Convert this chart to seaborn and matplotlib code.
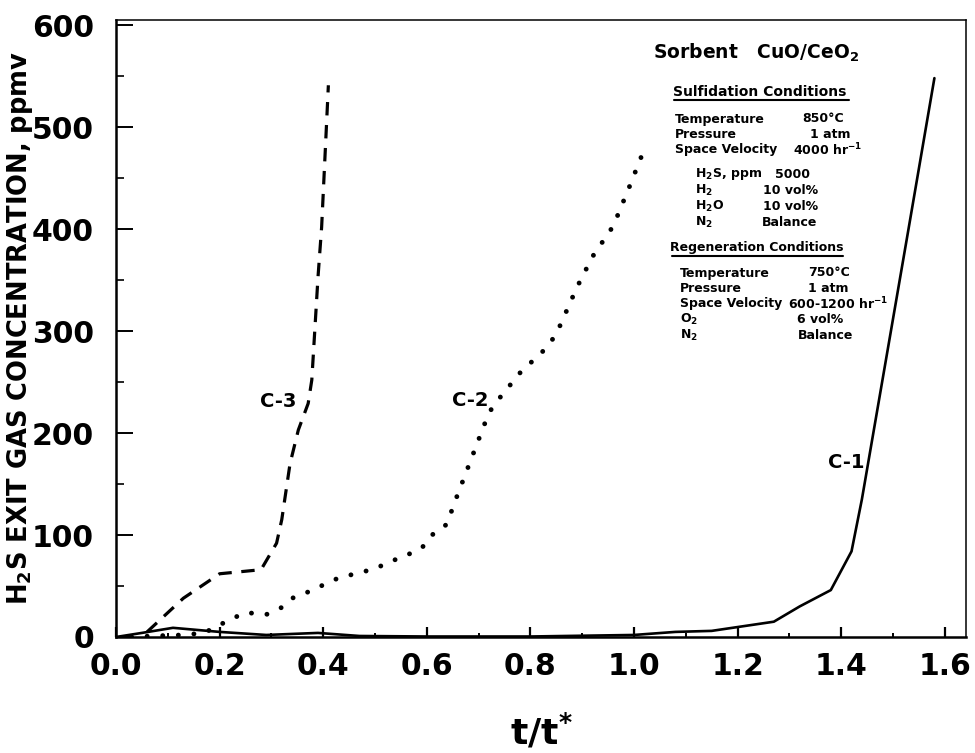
import matplotlib
matplotlib.use("Agg")
import matplotlib.pyplot as plt
import pandas as pd
import seaborn as sns
from matplotlib.lines import Line2D
from matplotlib.ticker import MultipleLocator, FormatStrFormatter

# Breakthrough curves: normalised time t/t* versus H2S exit concentration (ppmv)
t_c1 = [0.00, 0.05, 0.11, 0.20, 0.29, 0.39, 0.47, 0.60, 0.80, 1.00, 1.08,
        1.15, 1.27, 1.32, 1.38, 1.42, 1.44, 1.53, 1.58]
h2s_c1 = [0, 4, 9, 5, 2, 4, 1, 0.5, 0.5, 2, 5,
          6, 15, 30, 46, 84, 135, 400, 548]

t_c2 = [0.03, 0.07, 0.13, 0.17, 0.22, 0.25, 0.29, 0.32, 0.34, 0.37, 0.40,
        0.43, 0.47, 0.50, 0.53, 0.56, 0.59, 0.61, 0.64, 0.65, 0.72, 0.74,
        0.78, 0.83, 0.85, 0.89, 0.92, 0.96, 0.99, 1.015]
h2s_c2 = [0, 1, 2, 4, 17, 24, 22, 29, 38, 44, 51,
          58, 63, 67, 74, 80, 87, 100, 111, 127, 220, 234,
          259, 283, 297, 343, 373, 403, 440, 472]

t_c3 = [0.06, 0.13, 0.20, 0.26, 0.28, 0.31, 0.32, 0.336, 0.352, 0.371,
        0.378, 0.39, 0.397, 0.41]
h2s_c3 = [5, 38, 62, 65, 66, 92, 115, 170, 203, 229,
          252, 353, 402, 541]

curve_names = ["C-1", "C-2", "C-3"]

x_ticks = [0.0, 0.2, 0.4, 0.6, 0.8, 1.0, 1.2, 1.4, 1.6]
y_ticks = [0, 100, 200, 300, 400, 500, 600]

sorbent = "Sorbent   CuO/CeO$_2$"
sulf_title = "Sulfidation Conditions"
sulf_rows = [("Temperature", "850\u00b0C"), ("Pressure", "1 atm"),
             ("Space Velocity", "4000 hr$^{-1}$")]
feed_rows = [("H$_2$S, ppm", "5000"), ("H$_2$", "10 vol%"),
             ("H$_2$O", "10 vol%"), ("N$_2$", "Balance")]
regen_title = "Regeneration Conditions"
regen_rows = [("Temperature", "750\u00b0C"), ("Pressure", "1 atm"),
              ("Space Velocity", "600-1200 hr$^{-1}$"), ("O$_2$", "6 vol%"),
              ("N$_2$", "Balance")]

df = pd.concat([
    pd.DataFrame({"t": t_c1, "h2s": h2s_c1, "curve": "C-1"}),
    pd.DataFrame({"t": t_c2, "h2s": h2s_c2, "curve": "C-2"}),
    pd.DataFrame({"t": t_c3, "h2s": h2s_c3, "curve": "C-3"}),
])

sns.set_theme(style="ticks", rc={
    "axes.edgecolor": "black", "text.color": "black",
    "axes.labelcolor": "black", "xtick.color": "black",
    "ytick.color": "black", "axes.facecolor": "white",
    "figure.facecolor": "white",
})
plt.rcParams["font.family"] = ["DejaVu Sans"]
plt.rcParams["font.weight"] = "bold"
plt.rcParams["mathtext.default"] = "bf"

W, H = 975, 753
fig = plt.figure(figsize=(W / 100, H / 100), dpi=100)
ax = fig.add_axes([116 / W, 1 - 637 / H, (966 - 116) / W, (637 - 20) / H])

styles = {
    "C-1": dict(linestyle="-", lw=1.9),
    "C-2": dict(linestyle=(0, (0.01, 3.2)), lw=3.5, dash_capstyle="round"),
    "C-3": dict(linestyle=(0, (4.2, 3.0)), lw=2.3, dash_capstyle="butt"),
}
for name in curve_names:
    sub = df[df["curve"] == name]
    sns.lineplot(data=sub, x="t", y="h2s", ax=ax, color="black",
                 estimator=None, sort=False, legend=False, **styles[name])

ax.set_xlim(0, 1.641)
ax.set_ylim(0, 605)
ax.set_xticks(x_ticks)
ax.set_yticks(y_ticks)
ax.xaxis.set_minor_locator(MultipleLocator(0.1))
ax.yaxis.set_minor_locator(MultipleLocator(50))
ax.xaxis.set_major_formatter(FormatStrFormatter("%.1f"))
ax.tick_params(axis="both", which="both", direction="in", top=False, right=False)
ax.tick_params(axis="x", which="major", length=7, width=1.6, pad=11, labelsize=21.5)
ax.tick_params(axis="x", which="minor", length=3, width=1.4)
ax.tick_params(axis="y", which="major", length=12, width=1.4, pad=16, labelsize=21.5)
ax.tick_params(axis="y", which="minor", length=6, width=1.2)
for lab in ax.get_xticklabels() + ax.get_yticklabels():
    lab.set_fontweight("bold")

for side in ["left", "bottom"]:
    ax.spines[side].set_linewidth(1.8)
for side in ["top", "right"]:
    ax.spines[side].set_linewidth(1.1)

ax.set_ylabel("H$_2$S EXIT GAS CONCENTRATION, ppmv", fontsize=18.5, fontweight="bold")
ax.yaxis.set_label_coords(-(116 - 20) / (966 - 116), 0.5)
ax.yaxis.label.set_va("center")
ax.set_xlabel("t/t$^{*}$", fontsize=26, fontweight="bold")
ax.xaxis.set_label_coords(0.5, -(712 - 637) / (637 - 20))
ax.xaxis.label.set_va("top")

# curve labels
label_pos = {"C-1": (1.41, 171), "C-2": (0.683, 232), "C-3": (0.313, 231)}
for name in curve_names:
    x, y = label_pos[name]
    ax.text(x, y, name, fontsize=14, fontweight="bold", ha="center", va="center")


def fx(px):
    return px / W


def fy(py):
    return 1 - py / H


fig.text(fx(653), fy(53), sorbent, fontsize=13.5, fontweight="bold", va="center")

# conditions table, laid out in figure pixels
sulf_val_x = [802, 810, 793]
feed_val_x = [775, 763, 763, 762]
regen_val_x = [808, 808, 788, 797, 798]

fig.text(fx(760), fy(92), sulf_title, fontsize=10, fontweight="bold",
         ha="center", va="center")
fig.add_artist(Line2D([fx(674), fx(849)], [fy(100), fy(100)], color="black", lw=1.5))
for i, (k, v) in enumerate(sulf_rows):
    y = 119 + 15.5 * i
    fig.text(fx(675), fy(y), k, fontsize=9, fontweight="bold", va="center")
    fig.text(fx(sulf_val_x[i]), fy(y), v, fontsize=9, fontweight="bold", va="center")
for i, (k, v) in enumerate(feed_rows):
    y = 174 + 16.3 * i
    fig.text(fx(695), fy(y), k, fontsize=9, fontweight="bold", va="center")
    fig.text(fx(feed_val_x[i]), fy(y), v, fontsize=9, fontweight="bold", va="center")

fig.text(fx(757), fy(248), regen_title, fontsize=9, fontweight="bold",
         ha="center", va="center")
fig.add_artist(Line2D([fx(672), fx(843)], [fy(256), fy(256)], color="black", lw=1.5))
for i, (k, v) in enumerate(regen_rows):
    y = 273 + 15.5 * i
    fig.text(fx(680), fy(y), k, fontsize=9, fontweight="bold", va="center")
    fig.text(fx(regen_val_x[i]), fy(y), v, fontsize=9, fontweight="bold", va="center")

fig.savefig("out.png", dpi=100, facecolor="white")
